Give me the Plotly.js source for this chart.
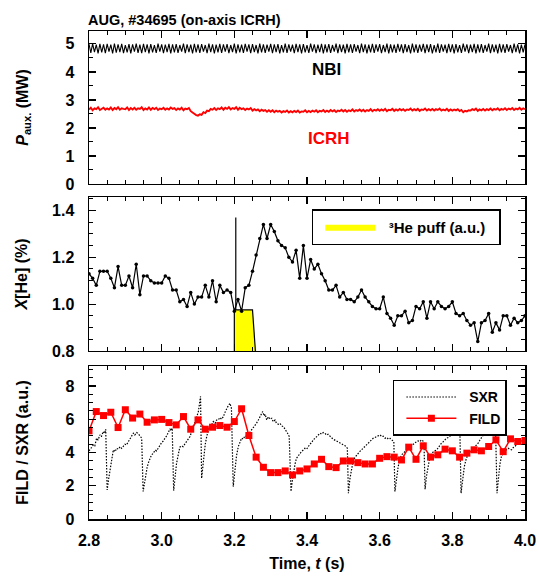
<!DOCTYPE html>
<html>
<head>
<meta charset="utf-8">
<script src="https://cdn.plot.ly/plotly-3.0.1.min.js"></script>
<style>html,body{margin:0;padding:0;background:#fff;}</style>
</head>
<body>
<div id="chart" style="width:539px;height:578px;"></div>
<script>
// ---------- DATA ----------
// Panel 1: auxiliary heating power (MW)
const nbiStart = 2.8, nbiStep = 0.005;
const nbiPower = [
4.99,4.68,5.01,4.71,4.97,4.66,5.00,4.70,4.98,4.67,
5.00,4.72,4.97,4.66,5.01,4.69,4.98,4.71,5.00,4.67,
4.96,4.70,4.99,4.66,4.98,4.72,5.01,4.68,4.97,4.67,
5.00,4.71,4.98,4.66,4.99,4.70,4.96,4.68,5.01,4.72,
4.98,4.67,4.97,4.71,5.00,4.66,4.98,4.70,4.99,4.68,
4.96,4.72,5.01,4.67,4.98,4.71,4.97,4.66,5.00,4.70,
4.98,4.68,4.99,4.72,4.96,4.67,5.01,4.71,4.98,4.66,
4.97,4.70,5.00,4.68,4.98,4.72,4.99,4.67,4.96,4.71,
5.01,4.66,4.98,4.70,4.97,4.68,5.00,4.72,4.98,4.67,
4.99,4.71,4.96,4.66,5.01,4.70,4.98,4.68,4.97,4.72,
5.00,4.67,4.98,4.71,4.99,4.66,4.96,4.70,5.01,4.68,
4.98,4.72,4.97,4.67,5.00,4.71,4.98,4.66,4.99,4.70,
4.96,4.68,5.01,4.72,4.98,4.67,4.97,4.71,5.00,4.66,
4.98,4.70,4.99,4.68,4.96,4.72,5.01,4.67,4.98,4.71,
4.97,4.66,5.00,4.70,4.98,4.68,4.99,4.72,4.96,4.67,
5.01,4.71,4.98,4.66,4.97,4.70,5.00,4.68,4.98,4.72,
4.99,4.67,4.96,4.71,5.01,4.66,4.98,4.70,4.97,4.68,
5.00,4.72,4.98,4.67,4.99,4.71,4.96,4.66,5.01,4.70,
4.98,4.68,4.97,4.72,5.00,4.67,4.98,4.71,4.99,4.66,
4.96,4.70,5.01,4.68,4.98,4.72,4.97,4.67,5.00,4.71,
4.98,4.66,4.99,4.70,4.96,4.68,5.01,4.72,4.98,4.67,
4.97,4.71,5.00,4.66,4.98,4.70,4.99,4.68,4.96,4.72,
5.01,4.67,4.98,4.71,4.97,4.66,5.00,4.70,4.98,4.68,
4.99,4.72,4.96,4.67,5.01,4.71,4.98,4.66,4.97,4.70,
4.98];

const icrhStart = 2.8, icrhStep = 0.005;
const icrhPower = [
2.66,2.72,2.63,2.70,2.67,2.74,2.64,2.69,2.72,2.65,
2.70,2.66,2.73,2.64,2.71,2.67,2.74,2.65,2.70,2.68,
2.67,2.73,2.64,2.71,2.66,2.72,2.65,2.70,2.68,2.74,
2.64,2.70,2.66,2.73,2.65,2.71,2.67,2.72,2.64,2.69,
2.67,2.72,2.65,2.70,2.66,2.73,2.68,2.71,2.64,2.70,
2.66,2.72,2.63,2.69,2.67,2.71,2.60,2.55,2.50,2.46,
2.44,2.49,2.47,2.56,2.53,2.62,2.60,2.68,2.65,2.71,
2.64,2.70,2.67,2.73,2.65,2.72,2.68,2.74,2.66,2.71,
2.68,2.74,2.65,2.72,2.67,2.70,2.64,2.69,2.66,2.71,
2.62,2.67,2.63,2.66,2.60,2.65,2.61,2.64,2.58,2.63,
2.58,2.63,2.56,2.62,2.58,2.61,2.55,2.60,2.57,2.62,
2.55,2.60,2.56,2.61,2.57,2.62,2.55,2.59,2.58,2.63,
2.56,2.61,2.57,2.62,2.58,2.63,2.56,2.61,2.59,2.64,
2.57,2.62,2.58,2.64,2.59,2.63,2.57,2.62,2.60,2.65,
2.59,2.64,2.58,2.63,2.60,2.66,2.59,2.64,2.61,2.66,
2.60,2.65,2.59,2.64,2.61,2.67,2.60,2.65,2.62,2.67,
2.61,2.66,2.62,2.68,2.60,2.65,2.63,2.68,2.61,2.66,
2.62,2.68,2.63,2.67,2.61,2.66,2.64,2.69,2.62,2.67,
2.63,2.68,2.61,2.66,2.64,2.69,2.62,2.67,2.63,2.68,
2.62,2.67,2.64,2.69,2.62,2.66,2.63,2.68,2.61,2.66,
2.62,2.66,2.63,2.67,2.60,2.64,2.56,2.61,2.59,2.63,
2.62,2.67,2.64,2.69,2.61,2.66,2.63,2.68,2.62,2.67,
2.64,2.69,2.63,2.68,2.65,2.70,2.63,2.68,2.65,2.70,
2.64,2.69,2.66,2.71,2.64,2.69,2.66,2.72,2.65,2.70,
2.67];

// Panel 2: He concentration X[He] (%)
const heStart = 2.8, heStep = 0.01;
const heConc = [
1.13,1.11,1.08,1.14,1.14,1.14,1.11,1.07,1.16,1.08,
1.08,1.12,1.07,1.17,1.04,1.12,1.12,1.10,1.09,1.09,
1.09,1.12,1.11,1.06,1.06,1.01,1.02,0.99,1.05,1.00,
1.03,1.03,1.08,1.03,1.10,1.01,1.08,1.05,1.06,1.05,
0.97,1.02,0.97,1.07,1.08,1.14,1.21,1.28,1.34,1.28,
1.34,1.31,1.27,1.25,1.24,1.20,1.18,1.23,1.11,1.25,
1.11,1.19,1.15,1.17,1.13,1.10,1.06,1.06,1.08,1.03,
1.05,1.02,1.02,1.01,1.03,1.06,1.03,1.01,0.99,0.98,
0.98,1.03,0.96,0.94,0.91,0.95,0.95,0.97,0.92,0.93,
0.99,0.98,1.01,0.94,1.01,0.98,1.01,0.99,0.98,0.99,
1.01,0.96,0.95,0.96,0.93,0.91,0.92,0.84,0.92,0.93,
0.96,0.88,0.92,0.89,0.95,0.95,0.91,0.94,0.92,0.93,
0.95];

// 3He puff waveform (a.u.)
const puffFillT = [3.200, 3.200, 3.250, 3.258];
const puffFillV = [0.80, 0.975, 0.975, 0.80];
const puffLineT = [3.200, 3.200, 3.204, 3.204, 3.204, 3.250, 3.258];
const puffLineV = [0.80, 0.975, 0.975, 1.37, 0.975, 0.975, 0.80];

// Panel 3: FILD (every 20 ms) and SXR (a.u.)
const fildStart = 2.8, fildStep = 0.02;
const fildSignal = [
5.30,6.46,6.22,6.42,5.50,6.57,6.07,6.31,5.82,5.96,
5.99,5.80,5.66,6.16,5.40,5.96,5.40,5.52,5.62,5.52,
5.86,6.63,5.02,3.72,3.11,2.79,2.79,2.89,2.65,2.89,
3.01,3.31,3.59,3.15,3.09,3.49,3.49,3.39,3.31,3.31,
3.65,3.75,3.72,3.55,4.32,3.59,4.40,3.72,3.86,4.20,
4.10,3.72,3.96,4.16,4.10,4.36,4.76,4.05,4.82,4.66,
4.72];

const sxrTime = [
2.800,2.803,2.807,2.812,2.816,2.821,2.825,2.830,2.834,2.839,2.843,2.846,2.850,2.854,2.858,2.862,2.867,2.872,2.876,2.881,
2.886,2.890,2.894,2.899,2.903,2.908,2.913,2.917,2.922,2.926,2.931,2.936,2.940,2.945,2.949,2.953,2.956,2.960,2.963,2.968,
2.972,2.977,2.982,2.986,2.991,2.996,3.000,3.005,3.009,3.014,3.018,3.023,3.026,3.029,3.033,3.037,3.041,3.046,3.050,3.055,
3.059,3.064,3.069,3.073,3.078,3.082,3.087,3.092,3.096,3.101,3.104,3.107,3.110,3.113,3.117,3.120,3.124,3.127,3.130,3.136,
3.142,3.147,3.151,3.156,3.160,3.165,3.170,3.174,3.179,3.183,3.188,3.192,3.197,3.202,3.206,3.211,3.215,3.220,3.225,3.229,
3.234,3.239,3.243,3.248,3.252,3.257,3.261,3.266,3.270,3.274,3.278,3.282,3.285,3.289,3.294,3.298,3.303,3.307,3.312,3.316,
3.321,3.326,3.330,3.335,3.340,3.344,3.348,3.351,3.356,3.359,3.362,3.367,3.371,3.376,3.380,3.385,3.390,3.394,3.399,3.403,
3.408,3.413,3.417,3.422,3.426,3.431,3.436,3.440,3.445,3.449,3.454,3.458,3.463,3.467,3.472,3.476,3.481,3.486,3.490,3.495,
3.500,3.505,3.511,3.514,3.518,3.523,3.527,3.532,3.536,3.541,3.545,3.550,3.555,3.559,3.564,3.568,3.573,3.578,3.582,3.587,
3.591,3.596,3.601,3.606,3.610,3.615,3.620,3.624,3.629,3.633,3.639,3.642,3.646,3.651,3.655,3.660,3.665,3.669,3.674,3.679,
3.683,3.688,3.693,3.697,3.702,3.706,3.711,3.715,3.719,3.722,3.725,3.729,3.734,3.738,3.743,3.748,3.752,3.757,3.761,3.766,
3.770,3.775,3.779,3.784,3.789,3.793,3.798,3.802,3.807,3.812,3.816,3.821,3.824,3.828,3.833,3.838,3.844,3.849,3.853,3.858,
3.862,3.867,3.871,3.876,3.880,3.885,3.890,3.894,3.899,3.903,3.908,3.913,3.916,3.919,3.923,3.927,3.931,3.935,3.940,3.945,
3.949,3.954,3.958,3.963,3.968,3.972,3.977,3.981,3.986,3.990,3.995,4.000];
const sxrSignal = [
4.10,4.16,4.30,4.46,4.40,4.86,4.75,5.06,4.95,5.26,5.15,5.40,1.75,2.40,2.95,3.70,4.16,4.05,4.25,4.20,
4.35,4.25,4.36,4.50,4.45,4.66,4.80,4.95,5.16,5.05,5.20,5.12,5.00,4.86,1.66,2.30,2.75,3.10,3.35,3.60,
3.85,3.95,4.15,4.10,4.32,4.45,4.60,4.70,4.86,5.00,5.20,5.40,5.30,5.46,1.71,2.60,3.35,3.90,4.32,4.40,
4.35,4.52,4.65,4.80,4.96,5.20,5.46,5.80,6.10,6.46,6.90,7.37,2.45,3.10,3.85,4.50,4.96,5.20,5.46,5.60,
5.86,5.75,5.95,5.96,6.10,6.00,6.16,6.40,6.66,6.80,6.96,6.66,1.95,2.95,3.80,4.36,4.55,4.86,4.80,5.00,
4.96,5.10,5.20,5.36,5.50,5.60,5.76,5.95,6.10,6.25,6.46,6.20,6.30,5.96,6.15,6.00,6.06,5.85,5.95,5.76,
5.70,5.75,5.60,5.56,5.40,5.25,5.10,4.96,1.66,2.20,2.75,3.30,3.65,3.80,3.95,4.06,4.15,4.25,4.20,4.36,
4.50,4.60,4.76,4.85,4.95,5.05,5.16,5.10,5.20,5.16,5.05,5.10,4.96,4.90,4.80,4.75,4.66,4.60,4.55,4.50,
4.46,4.40,4.26,1.55,2.40,3.15,3.50,3.70,3.85,3.95,4.05,4.16,4.25,4.35,4.46,4.55,4.65,4.76,4.85,4.90,
4.96,5.00,5.06,4.95,4.98,4.86,4.90,4.80,4.85,4.76,4.66,1.66,2.50,3.15,3.55,3.85,3.95,4.05,4.16,4.25,
4.35,4.46,4.50,4.60,4.66,4.70,4.65,4.76,4.70,4.56,1.79,2.60,3.35,3.70,3.95,4.05,4.10,4.16,4.30,4.40,
4.56,4.65,4.75,4.86,4.90,5.00,5.06,5.15,5.20,5.26,5.15,5.06,1.55,2.40,3.15,3.60,3.95,4.05,4.15,4.26,
4.35,4.45,4.56,4.75,4.90,5.06,5.20,5.30,5.36,5.50,5.66,5.50,5.45,5.36,1.55,2.60,3.30,3.75,3.95,4.10,
4.16,4.25,4.20,4.16,4.30,4.40,4.46,4.55,4.60,4.66,4.75,4.86];

// Text
const chartTitle = 'AUG, #34695 (on-axis ICRH)';
const xTickVals = [2.8, 3.0, 3.2, 3.4, 3.6, 3.8, 4.0];

// ---------- helpers ----------
function grid(start, step, n) {
  const out = [];
  for (let i = 0; i < n; i++) out.push(+(start + i * step).toFixed(4));
  return out;
}

const FONT = '"Liberation Sans", Arial, Helvetica, sans-serif';
const GAP = '\u00a0\u00a0';

const traces = [
  { x: grid(nbiStart, nbiStep, nbiPower.length), y: nbiPower, xaxis: 'x', yaxis: 'y',
    mode: 'lines', line: { color: 'black', width: 1.1 }, showlegend: false, name: 'NBI' },
  { x: grid(icrhStart, icrhStep, icrhPower.length), y: icrhPower, xaxis: 'x', yaxis: 'y',
    mode: 'lines', line: { color: '#ff0000', width: 1.9 }, showlegend: false, name: 'ICRH' },

  { x: puffFillT, y: puffFillV, xaxis: 'x2', yaxis: 'y2', mode: 'lines', fill: 'toself',
    fillcolor: '#ffff00', line: { width: 0, color: '#ffff00' }, name: GAP + '\u00b3He puff (a.u.)' + GAP,
    legend: 'legend', showlegend: true },
  { x: puffLineT, y: puffLineV, xaxis: 'x2', yaxis: 'y2', mode: 'lines',
    line: { color: 'black', width: 1.2 }, showlegend: false, name: 'puff' },
  { x: grid(heStart, heStep, heConc.length), y: heConc, xaxis: 'x2', yaxis: 'y2',
    mode: 'lines+markers', line: { color: 'black', width: 1.2 },
    marker: { color: 'black', size: 3.5, symbol: 'circle' }, showlegend: false, name: 'X[He]' },

  { x: sxrTime, y: sxrSignal, xaxis: 'x3', yaxis: 'y3', mode: 'lines',
    line: { color: 'black', width: 1.2, dash: '1.5px,1.5px' }, name: GAP + 'SXR', legend: 'legend2' },
  { x: grid(fildStart, fildStep, fildSignal.length), y: fildSignal, xaxis: 'x3', yaxis: 'y3',
    mode: 'lines+markers', line: { color: '#ff0000', width: 1.5 },
    marker: { color: '#ff0000', size: 7, symbol: 'square' }, name: GAP + 'FILD', legend: 'legend2' }
];

function xAxis(anchor, showLabels) {
  return {
    anchor: anchor, domain: [0, 1], range: [2.8, 4.0], tickvals: xTickVals,
    tickformat: '.1f', showticklabels: showLabels,
    showline: true, linecolor: 'black', linewidth: 1.5, mirror: 'allticks',
    ticks: 'inside', ticklen: 7, tickwidth: 1.2, tickcolor: 'black',
    minor: { ticks: 'inside', ticklen: 4, tickwidth: 1, tickcolor: 'black', dtick: 0.05, tick0: 2.8, showgrid: false },
    showgrid: false, zeroline: false, ticklabelstandoff: 6,
    tickfont: { family: FONT, size: 16, color: 'black', weight: 'bold' }
  };
}
function yAxis(anchor, domain, range, tick0, dtick, minorD, fmt, title, standoff) {
  return {
    anchor: anchor, domain: domain, range: range, tick0: tick0, dtick: dtick, tickformat: fmt,
    showline: true, linecolor: 'black', linewidth: 1.5, mirror: 'allticks',
    ticks: 'inside', ticklen: 7, tickwidth: 1.2, tickcolor: 'black',
    minor: { ticks: 'inside', ticklen: 4, tickwidth: 1, tickcolor: 'black', dtick: minorD, tick0: tick0, showgrid: false },
    showgrid: false, zeroline: false, ticklabelstandoff: 10,
    tickfont: { family: FONT, size: 16, color: 'black', weight: 'bold' },
    title: { text: title, standoff: standoff, font: { family: FONT, size: 16, color: 'black', weight: 'bold' } }
  };
}

const layout = {
  width: 539, height: 578,
  margin: { l: 89, r: 14, t: 31, b: 59 },
  paper_bgcolor: 'white', plot_bgcolor: 'white',
  font: { family: FONT, size: 16, color: 'black', weight: 'bold' },
  title: { text: chartTitle, x: 88 / 539, xanchor: 'left', xref: 'container',
           y: 1 - 20 / 578, yanchor: 'middle', yref: 'container',
           font: { family: FONT, size: 14.5, color: 'black', weight: 'bold' } },
  xaxis: xAxis('y', false),
  xaxis2: xAxis('y2', false),
  xaxis3: Object.assign(xAxis('y3', true), {
    title: { text: 'Time, <i>t</i> (s)', standoff: 10, font: { family: FONT, size: 16, color: 'black', weight: 'bold' } }
  }),
  yaxis: yAxis('x', [0.6865, 1], [0, 5.46], 0, 1, 0.5, 'd', '<i>P</i><sub>aux.</sub> (MW)', 33),
  yaxis2: yAxis('x2', [0.3443, 0.6598], [0.8, 1.457], 0.8, 0.2, 0.05, '.1f', '<i>X</i>[He] (%)', 20),
  yaxis3: yAxis('x3', [0, 0.3135], [0, 9.2], 0, 2, 0.5, 'd', 'FILD / SXR (a.u.)', 33),
  legend: {
    x: 0.511, y: 0.635, xanchor: 'left', yanchor: 'top', xref: 'paper', yref: 'paper',
    bgcolor: 'white', bordercolor: 'black', borderwidth: 1.5, itemwidth: 50, indentation: 7,
    font: { family: FONT, size: 15, color: 'black', weight: 'bold' }
  },
  legend2: {
    x: 0.697, y: 0.285, xanchor: 'left', yanchor: 'top', xref: 'paper', yref: 'paper',
    bgcolor: 'white', bordercolor: 'black', borderwidth: 1.5, itemwidth: 50, indentation: 7, tracegroupgap: 0,
    font: { family: FONT, size: 14, color: 'black', weight: 'bold' }
  },
  annotations: [
    { x: 3.455, y: 4.07, xref: 'x', yref: 'y', text: 'NBI', showarrow: false,
      font: { family: FONT, size: 17, color: 'black', weight: 'bold' } },
    { x: 3.46, y: 1.62, xref: 'x', yref: 'y', text: 'ICRH', showarrow: false,
      font: { family: FONT, size: 17, color: '#ff0000', weight: 'bold' } }
  ]
};

Plotly.newPlot('chart', traces, layout, { displayModeBar: false, staticPlot: true });
</script>
</body>
</html>
